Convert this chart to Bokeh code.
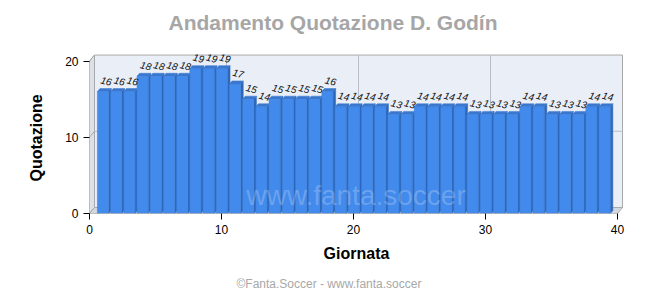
from bokeh.plotting import figure
from bokeh.models import Range1d, FixedTicker, Label, ColumnDataSource, Title
from bokeh.core.properties import value
from bokeh.embed import file_html
from bokeh.resources import INLINE

# --- data -------------------------------------------------------------
giornate = list(range(1, 40))
quotazioni = [16, 16, 16, 18, 18, 18, 18, 19, 19, 19, 17, 15, 14, 15, 15,
              15, 15, 16, 14, 14, 14, 14, 13, 13, 14, 14, 14, 14, 13, 13,
              13, 13, 14, 14, 13, 13, 13, 14, 14]
x_ticks = [0, 10, 20, 30, 40]
y_ticks = [0, 10, 20]
x_max = 40
y_max = 20

FONT = "Liberation Sans"

# --- frame geometry (pixels) -----------------------------------------
# the frame reaches the top of the canvas so the heading can sit inside it
W, H = 660, 300
frame_left, frame_right, frame_top, frame_bottom = 89, 623, 0, 214
px_per_x = 13.2
px_per_y = 7.66
x_end = (frame_right - frame_left) / px_per_x
y_end = (frame_bottom - frame_top) / px_per_y

# depth of the 3D walls and of the bars, in data units
wdx, wdy = 5 / px_per_x, 6 / px_per_y
bdx, bdy = 2.6 / px_per_x, 3 / px_per_y
bar_l, bar_r = 0.40, 0.45

p = figure(width=W, height=H, title=None,
           x_range=Range1d(0, x_end), y_range=Range1d(0, y_end),
           output_backend="svg", toolbar_location=None,
           min_border_left=frame_left, min_border_right=W - frame_right,
           min_border_top=frame_top, min_border_bottom=H - frame_bottom)
p.outline_line_color = None
p.grid.visible = False
p.background_fill_color = "white"
p.border_fill_color = "white"

wall_line = "#A9A9A9"
grid_line = "#B9BEC6"


def dx(px):
    return (px - frame_left) / px_per_x


def dy(py):
    return (frame_bottom - py) / px_per_y


# back wall, left wall, floor
p.quad(left=[wdx], right=[x_max + wdx], bottom=[wdy], top=[y_max + wdy],
       fill_color="#E9EEF7", line_color=wall_line, line_width=1)
p.patch([0, wdx, wdx, 0], [0, wdy, y_max + wdy, y_max],
        fill_color="#DCE1E9", line_color=wall_line, line_width=1)
p.patch([0, x_max, x_max + wdx, wdx], [0, 0, wdy, wdy],
        fill_color="#D3D7DE", line_color=wall_line, line_width=1)

# grid on the walls
gx = [t for t in x_ticks if 0 < t < x_max]
p.segment(x0=[t + wdx for t in gx], y0=[wdy] * len(gx),
          x1=[t + wdx for t in gx], y1=[y_max + wdy] * len(gx),
          line_color=grid_line, line_width=1)
gy = [t for t in y_ticks if 0 < t < y_max]
p.segment(x0=[wdx] * len(gy), y0=[t + wdy for t in gy],
          x1=[x_max + wdx] * len(gy), y1=[t + wdy for t in gy],
          line_color=grid_line, line_width=1)
gy_all = [t for t in y_ticks if t > 0]
p.segment(x0=[0] * len(gy_all), y0=gy_all,
          x1=[wdx] * len(gy_all), y1=[t + wdy for t in gy_all],
          line_color=wall_line, line_width=1)

# 3D bars: side, top, front faces
side_xs, side_ys, top_xs, top_ys = [], [], [], []
for g, v in zip(giornate, quotazioni):
    r = g + bar_r
    l = g - bar_l
    side_xs.append([r, r + bdx, r + bdx, r])
    side_ys.append([0, bdy, v + bdy, v])
    top_xs.append([l, r, r + bdx, l + bdx])
    top_ys.append([v, v, v + bdy, v + bdy])

p.patches(side_xs, side_ys, fill_color="#2F67B8", line_color="#2F67B8", line_width=0.5)
p.patches(top_xs, top_ys, fill_color="#3A77CF", line_color="#3A77CF", line_width=0.5)

src = ColumnDataSource(dict(
    left=[g - bar_l for g in giornate],
    right=[g + bar_r for g in giornate],
    top=quotazioni,
    lx=[g + 0.2 for g in giornate],
    ly=[v + bdy for v in quotazioni],
    txt=[str(v) for v in quotazioni],
))
p.quad(left="left", right="right", bottom=0, top="top", source=src,
       fill_color="#428AEB", line_color="#3B7DD8", line_width=0.5)

# value labels
p.text(x="lx", y="ly", text="txt", source=src, angle=-0.25,
       text_font=value(FONT), text_font_size="10px", text_font_style="italic",
       text_color="#111111", text_align="center", text_baseline="bottom",
       y_offset=-4)

# front edges
p.segment(x0=[0, 0], y0=[0, 0], x1=[x_max, 0], y1=[0, y_max],
          line_color=wall_line, line_width=1)

# heading
p.text(x=[dx(168)], y=[dy(22)], text=["Andamento Quotazione D. Godín"],
       text_font=value(FONT), text_font_size="21px", text_font_style="bold",
       text_color="#A6A6A6", text_align="left", text_baseline="alphabetic")

# --- axes --------------------------------------------------------------
for ax in (p.xaxis, p.yaxis):
    ax.axis_line_color = None
    ax.major_tick_line_color = "black"
    ax.major_tick_in = 0
    ax.major_tick_out = 6
    ax.minor_tick_line_color = None
    ax.major_label_text_font = FONT
    ax.major_label_text_font_size = "12px"
    ax.major_label_text_color = "black"
    ax.axis_label_text_font = FONT
    ax.axis_label_text_font_size = "16px"
    ax.axis_label_text_font_style = "bold"
    ax.axis_label_text_color = "black"

p.xaxis.ticker = FixedTicker(ticks=x_ticks)
p.yaxis.ticker = FixedTicker(ticks=y_ticks)
p.xaxis.axis_label = "Giornata"
p.xaxis.axis_label_standoff = 8

# y axis name, centred on the value range rather than on the full frame
p.add_layout(Title(text="Quotazione", align="left", offset=32, standoff=36,
                   text_font=FONT, text_font_size="16px", text_font_style="bold",
                   text_color="black"), "left")

# --- watermark and footer ------------------------------------------------
p.add_layout(Label(x=dx(355.5), y=dy(196), text="www.fanta.soccer",
                   text_font=FONT, text_font_size="28px",
                   text_color="white", text_alpha=0.22,
                   text_align="center", text_baseline="alphabetic"))

p.add_layout(Title(text="©Fanta.Soccer - www.fanta.soccer", align="left", offset=147,
                   standoff=20, text_font=FONT, text_font_size="12px",
                   text_font_style="normal", text_color="#A8A8A8"), "below")

open("out.html", "w").write(file_html(p, INLINE))
